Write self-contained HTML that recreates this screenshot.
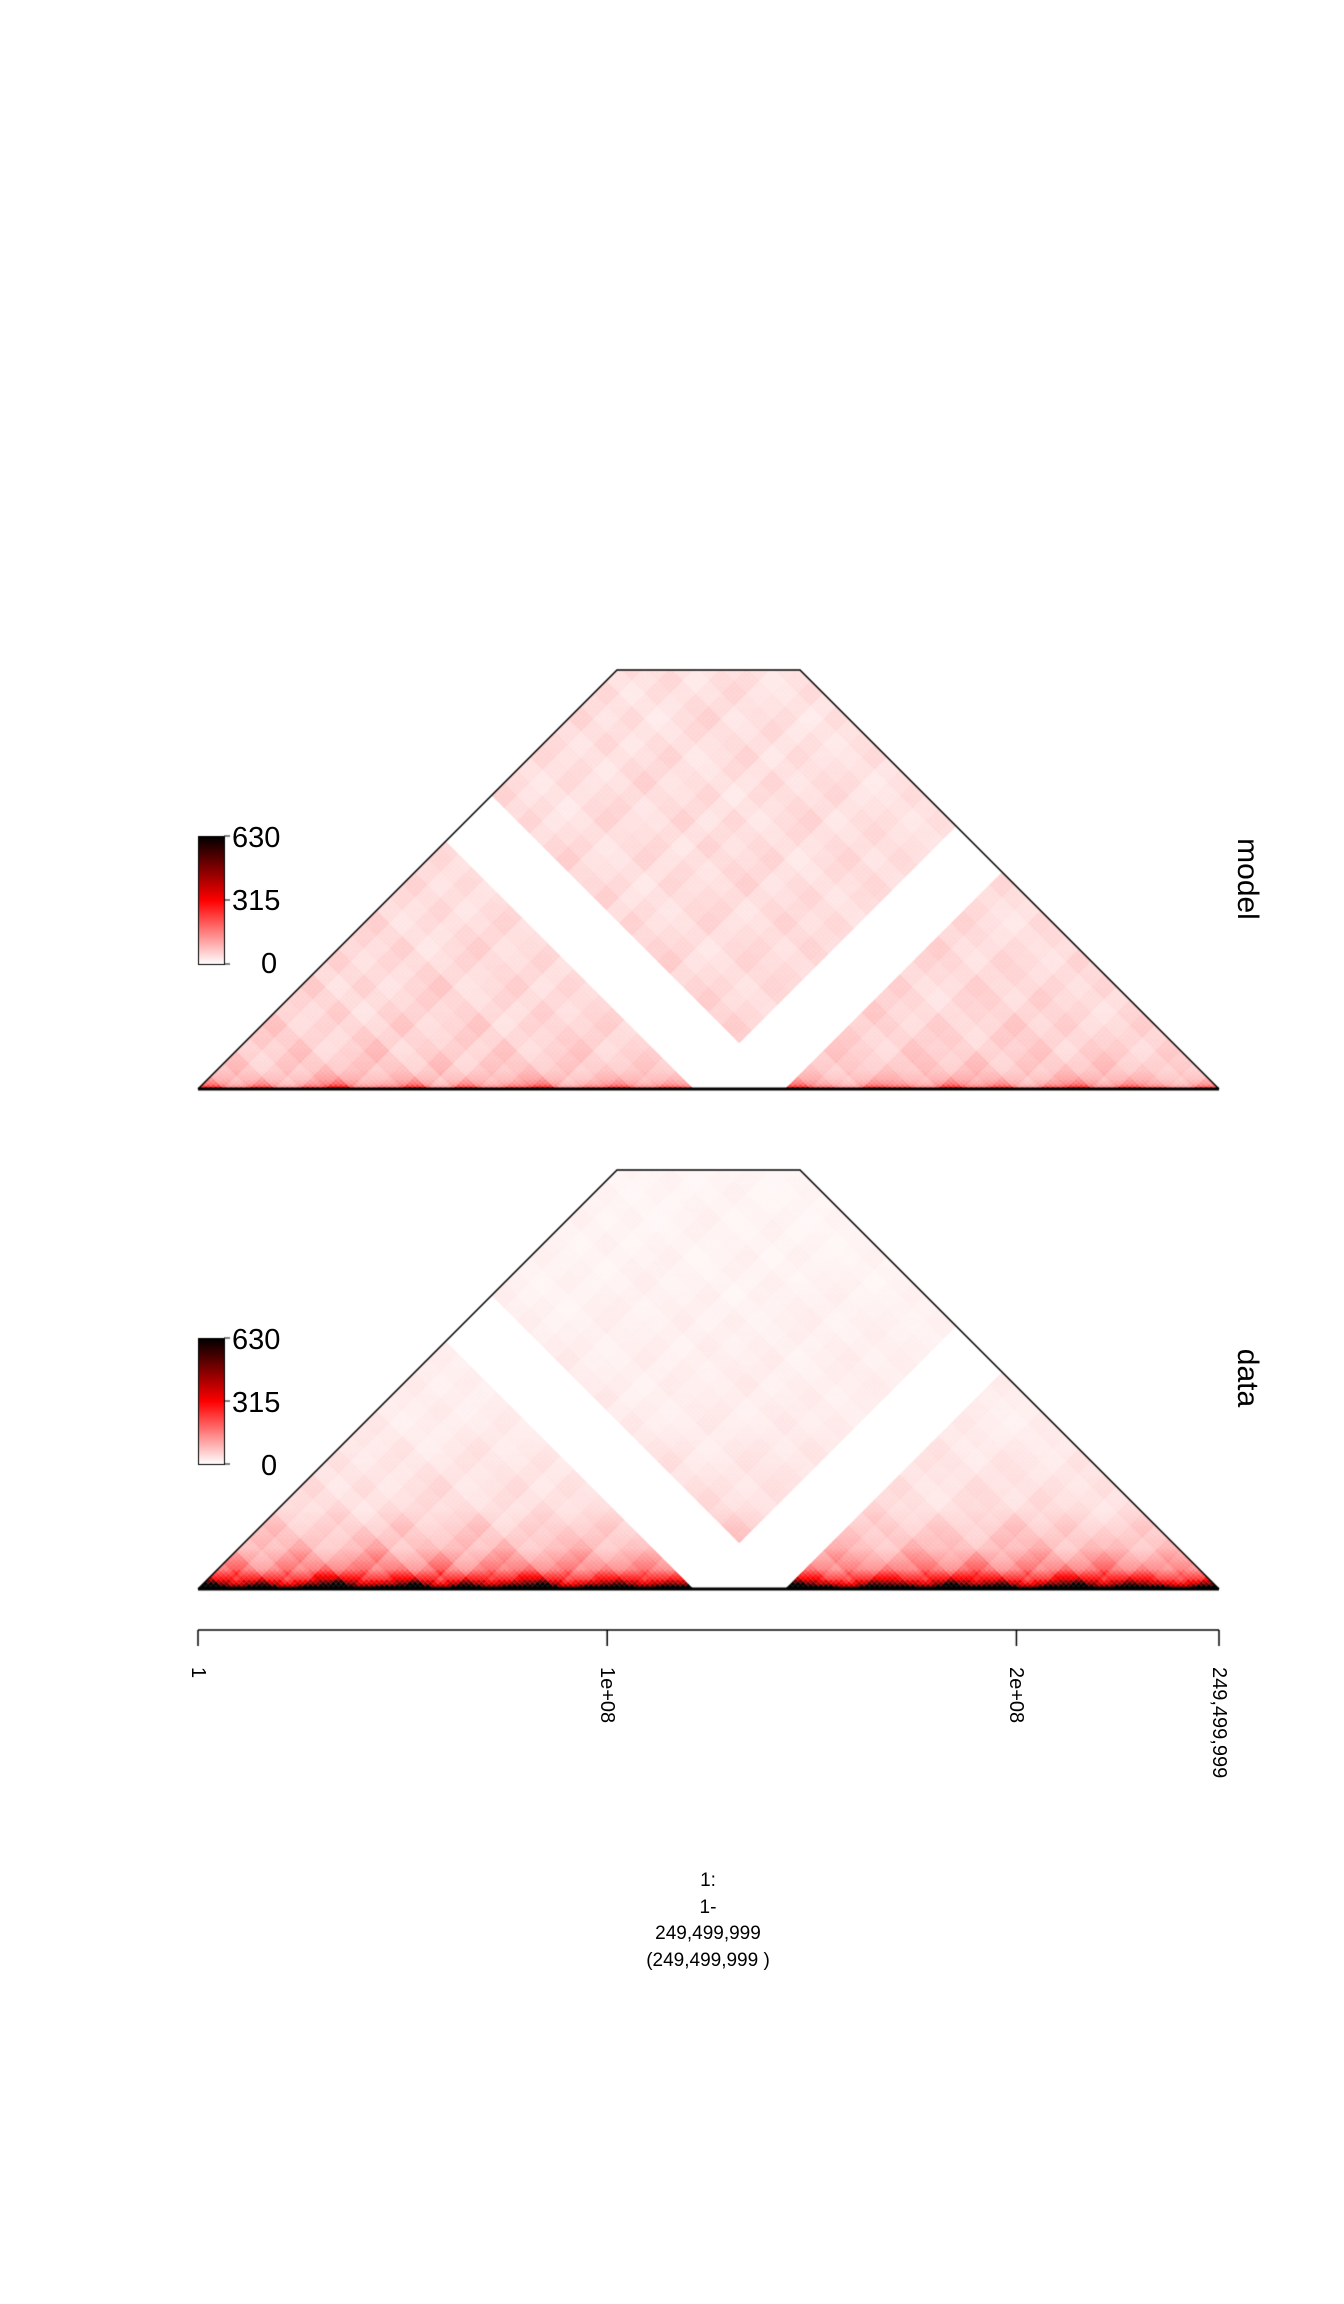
<!DOCTYPE html>
<html><head><meta charset="utf-8">
<style>
html,body{margin:0;padding:0;background:#fff;}
body{width:1344px;height:2304px;position:relative;overflow:hidden;font-family:"Liberation Sans",sans-serif;}
canvas{position:absolute;left:0;top:0;}
.t{position:absolute;color:#000;white-space:nowrap;}
</style></head>
<body>
<canvas id="c" width="1344" height="2304"></canvas>
<div class="t" style="left:232px;top:822px;font-size:29px;">630</div>
<div class="t" style="left:232px;top:885px;font-size:29px;">315</div>
<div class="t" style="left:261px;top:948px;font-size:29px;">0</div>
<div class="t" style="left:232px;top:1324px;font-size:29px;">630</div>
<div class="t" style="left:232px;top:1387px;font-size:29px;">315</div>
<div class="t" style="left:261px;top:1450px;font-size:29px;">0</div>
<div class="t" style="left:1202px;top:862px;font-size:30px;transform:rotate(90deg);transform-origin:center;width:90px;text-align:center;">model</div>
<div class="t" style="left:1202px;top:1361px;font-size:30px;transform:rotate(90deg);transform-origin:center;width:90px;text-align:center;">data</div>
<div id="ticks"></div>
<div class="t" style="left:558px;top:1868px;width:300px;text-align:center;font-size:19px;line-height:26.5px;">1:<br>1-<br>249,499,999<br>(249,499,999 )</div>
<script>
// ---- data arrays ----
const tickValues = [1, 100000000, 200000000, 249499999];
const tickLabels = ["1", "1e+08", "2e+08", "249,499,999"];
const chromLength = 249499999;
const centromere = [121000000, 143300000];
const colorbarTicks = [0, 315, 630];
// compartment-like profile per 40 genomic segments
const compartment = [1.3,0.9,1.2,0.8,1.1,1.4,0.9,1.0,1.3,0.8,1.2,0.9,1.1,1.3,0.8,1.0,1.2,0.9,1.1,1.0,
                     1.0,1.2,0.9,1.3,1.0,0.8,1.2,1.1,0.9,1.3,1.0,1.2,0.8,1.1,1.3,0.9,1.2,1.0,0.8,1.1];
// distance-decay profiles (value at distance index in bins)
const decayDistances = [0, 1, 2, 4, 8, 16, 32, 64, 128, 200];
const modelDecay = [260, 150, 110, 80, 62, 52, 45, 40, 36, 34];
const dataDecay = [950, 620, 420, 260, 140, 75, 38, 22, 14, 10];

const cv = document.getElementById('c');
const ctx = cv.getContext('2d');
const N = 200;
const X0 = 198, X1 = 1219;
const s = (X1 - X0) / N;
const maxH = 419;
function xScale(v){ return X0 + (v / chromLength) * (X1 - X0); }
function interp(d, arr){
  for (let k = 0; k < decayDistances.length - 1; k++) {
    if (d <= decayDistances[k+1]) {
      const t = (d - decayDistances[k]) / (decayDistances[k+1] - decayDistances[k]);
      return arr[k] + t * (arr[k+1] - arr[k]);
    }
  }
  return arr[arr.length-1];
}
function color(v){
  v = Math.max(0, Math.min(630, v));
  if (v <= 315) { const g = Math.round(255 * (1 - v/315)); return `rgb(255,${g},${g})`; }
  const r = Math.round(255 * (1 - (v-315)/315)); return `rgb(${r},0,0)`;
}
const cenA = Math.round(centromere[0] / chromLength * N), cenB = Math.round(centromere[1] / chromLength * N);
function comp(i){ return compartment[Math.floor(i * compartment.length / N)]; }

function panel(y0, decay, mix){
  ctx.save();
  ctx.beginPath();
  ctx.moveTo(X0, y0); ctx.lineTo(X0 + maxH, y0 - maxH); ctx.lineTo(X1 - maxH, y0 - maxH); ctx.lineTo(X1, y0); ctx.closePath();
  ctx.clip();
  ctx.setTransform(s/2, s/2, s/2, -s/2, X0, y0);
  for (let i = 0; i < N; i++) {
    if (i >= cenA && i < cenB) continue;
    for (let j = i; j < N; j++) {
      if (j >= cenA && j < cenB) continue;
      const d = j - i;
      if (d * s / 2 > maxH + s) continue;
      const c = 1 + mix * (comp(i) * comp(j) - 1);
      ctx.fillStyle = color(interp(d, decay) * c);
      ctx.fillRect(i, j, 1.06, 1.06);
    }
  }
  ctx.restore();
  ctx.strokeStyle = '#000'; ctx.lineWidth = 1.5;
  ctx.beginPath();
  ctx.moveTo(X0, y0); ctx.lineTo(X0 + maxH, y0 - maxH); ctx.lineTo(X1 - maxH, y0 - maxH); ctx.lineTo(X1, y0);
  ctx.stroke();
  ctx.lineWidth = 3;
  ctx.beginPath(); ctx.moveTo(X0, y0); ctx.lineTo(X1, y0); ctx.stroke();
}
function colorbar(top, bottom){
  const x = 198, w = 26;
  for (let y = top; y < bottom; y++) {
    const v = 630 * (bottom - y) / (bottom - top);
    ctx.fillStyle = color(v); ctx.fillRect(x, y, w, 1);
  }
  ctx.strokeStyle = '#000'; ctx.lineWidth = 1;
  ctx.strokeRect(x + 0.5, top + 0.5, w, bottom - top);
  colorbarTicks.forEach(t => {
    const y = bottom - t / 630 * (bottom - top);
    ctx.beginPath(); ctx.moveTo(x + w, y); ctx.lineTo(x + w + 6, y); ctx.stroke();
  });
}
panel(1089, modelDecay, 0.8);
panel(1589, dataDecay, 0.7);
colorbar(836, 964);
colorbar(1338, 1464);

// axis
ctx.strokeStyle = '#000'; ctx.lineWidth = 1.5;
ctx.beginPath(); ctx.moveTo(X0, 1630); ctx.lineTo(X1, 1630); ctx.stroke();
const tk = document.getElementById('ticks');
tickValues.forEach((v, k) => {
  const x = xScale(v);
  ctx.beginPath(); ctx.moveTo(x, 1630); ctx.lineTo(x, 1646); ctx.stroke();
  const el = document.createElement('div');
  
  
  el.className = 't';
  el.textContent = tickLabels[k];
  el.style.fontSize = '20px';
  el.style.left = (x + 11) + 'px';
  el.style.top = '1667px';
  el.style.transformOrigin = '0 0';
  el.style.transform = 'rotate(90deg)';
  tk.appendChild(el);
});
</script>
</body></html>
